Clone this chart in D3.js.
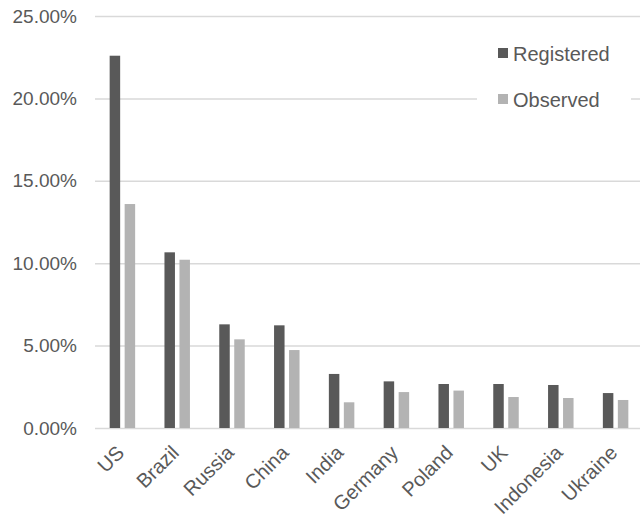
<!DOCTYPE html>
<html>
<head>
<meta charset="utf-8">
<script src="https://cdn.jsdelivr.net/npm/d3@7"></script>
<style>
  html, body { margin: 0; padding: 0; background: #fff; }
  svg { display: block; font-family: "Liberation Sans", Arial, sans-serif; }
</style>
</head>
<body>
<svg id="chart" width="640" height="518"></svg>
<script>
// Share of cases by country, registered vs observed
const countries = ["US", "Brazil", "Russia", "China", "India", "Germany", "Poland", "UK", "Indonesia", "Ukraine"];
const registered = [0.2259, 0.1066, 0.0629, 0.0623, 0.0328, 0.0283, 0.0267, 0.0267, 0.0261, 0.0212];
const observed   = [0.1359, 0.1021, 0.0538, 0.0473, 0.0156, 0.0218, 0.0227, 0.0188, 0.0182, 0.0170];
const seriesNames = ["Registered", "Observed"];
const yTicks = [0, 0.05, 0.10, 0.15, 0.20, 0.25];

const colors = { Registered: "#595959", Observed: "#b3b3b3" };
const textColor = "#595959";
const gridColor = "#d9d9d9";

const svg = d3.select("#chart");

const plot = { left: 95, right: 643, top: 16, bottom: 428 };

const y = d3.scaleLinear().domain([0, 0.25]).range([plot.bottom, plot.top]);

const x0 = d3.scaleBand()
  .domain(countries)
  .range([plot.left, plot.right])
  .paddingInner(0.535)
  .paddingOuter(0.2675);

const x1 = d3.scaleBand()
  .domain(seriesNames)
  .range([0, x0.bandwidth()])
  .paddingInner(0.3);

// Gridlines and y-axis labels
const yAxis = d3.axisLeft(y)
  .tickValues(yTicks)
  .tickFormat(d3.format(".2%"))
  .tickSize(-(640 - plot.left))
  .tickPadding(18);

const gy = svg.append("g")
  .attr("transform", `translate(${plot.left},0)`)
  .call(yAxis);
gy.select(".domain").remove();
gy.selectAll(".tick line").attr("stroke", gridColor).attr("stroke-width", 1.5);
gy.selectAll(".tick text")
  .attr("fill", textColor)
  .attr("font-size", 19)
  .attr("font-family", "Liberation Sans, Arial, sans-serif");

// Bars
const rows = countries.map((c, i) => ({ country: c, values: [
  { key: "Registered", value: registered[i] },
  { key: "Observed", value: observed[i] }
]}));

const groups = svg.append("g").selectAll("g")
  .data(rows)
  .join("g")
  .attr("transform", d => `translate(${x0(d.country)},0)`);

groups.selectAll("rect")
  .data(d => d.values)
  .join("rect")
  .attr("x", d => x1(d.key))
  .attr("width", x1.bandwidth())
  .attr("y", d => y(d.value))
  .attr("height", d => y(0) - y(d.value))
  .attr("fill", d => colors[d.key]);

// Category labels, rotated
const xAxis = d3.axisBottom(x0).tickSize(0).tickPadding(0);
const gx = svg.append("g")
  .attr("transform", `translate(0,${plot.bottom})`)
  .call(xAxis);
gx.select(".domain").remove();
gx.selectAll(".tick text")
  .attr("fill", textColor)
  .attr("font-size", 20)
  .attr("font-family", "Liberation Sans, Arial, sans-serif")
  .attr("text-anchor", "end")
  .attr("dy", null)
  .attr("y", null)
  .attr("transform", "translate(3,26) rotate(-45)");

// Legend
const legend = svg.append("g").attr("transform", "translate(477,30)");
legend.append("rect")
  .attr("x", 0).attr("y", 0)
  .attr("width", 154).attr("height", 90)
  .attr("fill", "#fff");

const items = legend.selectAll("g.item")
  .data(seriesNames)
  .join("g")
  .attr("class", "item")
  .attr("transform", (d, i) => `translate(21,${18 + i * 46})`);

items.append("rect")
  .attr("width", 10).attr("height", 10)
  .attr("fill", d => colors[d]);

items.append("text")
  .attr("x", 15)
  .attr("y", 13)
  .attr("fill", textColor)
  .attr("font-size", 20)
  .text(d => d);
</script>
</body>
</html>
